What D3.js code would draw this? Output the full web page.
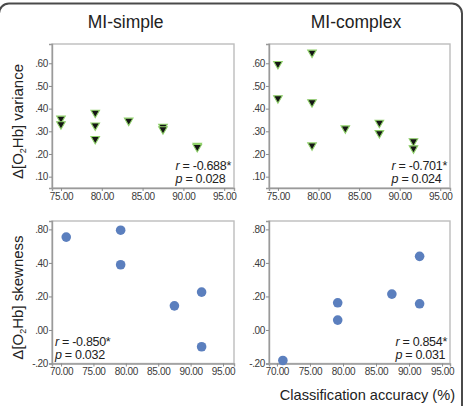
<!DOCTYPE html>
<html><head><meta charset="utf-8">
<script src="https://cdnjs.cloudflare.com/ajax/libs/d3/7.8.5/d3.min.js"></script>
<style>
html,body{margin:0;padding:0;background:#fff;}
svg{display:block;font-family:"Liberation Sans",Arial,sans-serif;}
</style></head>
<body><svg id="c" width="467" height="406"></svg>
<script>
// ---------- data ----------
const colTitles = ["MI-simple", "MI-complex"];
const xLabel = "Classification accuracy (%)";

// top row: variance (triangles)
const simpleVarX = [75.0, 75.0, 79.2, 79.2, 79.2, 83.3, 87.5, 87.5, 91.7, 91.7];
const simpleVarY = [0.356, 0.331, 0.382, 0.326, 0.266, 0.347, 0.320, 0.309, 0.236, 0.231];
const complexVarX = [75.0, 75.0, 79.2, 79.2, 79.2, 83.3, 87.5, 87.5, 91.7, 91.7];
const complexVarY = [0.597, 0.446, 0.647, 0.428, 0.238, 0.313, 0.338, 0.292, 0.256, 0.225];

// bottom row: skewness (circles), y in axis position units
const simpleSkewX = [70.8, 79.2, 79.2, 87.5, 91.7, 91.7];
const simpleSkewY = [0.554, 0.595, 0.389, 0.144, 0.226, -0.100];
const complexSkewX = [70.9, 79.2, 79.2, 87.4, 91.6, 91.6];
const complexSkewY = [-0.182, 0.162, 0.059, 0.214, 0.439, 0.156];

const topXTicks = [75, 80, 85, 90, 95];
const botXTicks = [70, 75, 80, 85, 90, 95];
const topYTicks = [0.1, 0.2, 0.3, 0.4, 0.5, 0.6];
const topYTickLabels = [".10", ".20", ".30", ".40", ".50", ".60"];
const botYTicks = [-0.2, 0.0, 0.2, 0.4, 0.6];
const botYTickLabels = ["-.20", ".00", ".20", ".40", ".80"];

const stats = [
  {r: "-0.688*", p: "0.028"},
  {r: "-0.701*", p: "0.024"},
  {r: "-0.850*", p: "0.032"},
  {r: "0.854*",  p: "0.031"}
];

// ---------- drawing ----------
const svg = d3.select("#c");

// outer rounded border
svg.append("rect").attr("x", -1).attr("y", 3.5).attr("width", 463).attr("height", 420)
  .attr("rx", 10).attr("fill", "none").attr("stroke", "#4a4a4a").attr("stroke-width", 2);

const panels = [
  {x0: 52, x1: 234, y0: 44, y1: 188, xd: [73.9, 96.2], yd: [0.05, 0.685], xs: simpleVarX, ys: simpleVarY,
   xt: topXTicks, yt: topYTicks, ytl: topYTickLabels, mark: "tri", st: stats[0], statPos: "br"},
  {x0: 269, x1: 450, y0: 44, y1: 188, xd: [73.9, 96.2], yd: [0.05, 0.685], xs: complexVarX, ys: complexVarY,
   xt: topXTicks, yt: topYTicks, ytl: topYTickLabels, mark: "tri", st: stats[1], statPos: "br"},
  {x0: 52, x1: 234, y0: 221, y1: 363.5, xd: [68.6, 96.7], yd: [-0.2, 0.65], xs: simpleSkewX, ys: simpleSkewY,
   xt: botXTicks, yt: botYTicks, ytl: botYTickLabels, mark: "dot", st: stats[2], statPos: "bl"},
  {x0: 269, x1: 450, y0: 221, y1: 363.5, xd: [68.8, 96.2], yd: [-0.2, 0.65], xs: complexSkewX, ys: complexSkewY,
   xt: botXTicks, yt: botYTicks, ytl: botYTickLabels, mark: "dot", st: stats[3], statPos: "br"}
];

panels.forEach(p => {
  const x = d3.scaleLinear().domain(p.xd).range([p.x0, p.x1]);
  const y = d3.scaleLinear().domain(p.yd).range([p.y1, p.y0]);
  const g = svg.append("g");

  g.append("rect").attr("x", p.x0).attr("y", p.y0).attr("width", p.x1 - p.x0).attr("height", p.y1 - p.y0)
    .attr("fill", "#fff").attr("stroke", "#bdbdbd").attr("stroke-width", 1.4);

  const xa = g.append("g").attr("transform", `translate(0,${p.y1})`)
    .call(d3.axisBottom(x).tickValues(p.xt).tickFormat(d3.format(".2f")).tickSize(3).tickPadding(1.5));
  const ya = g.append("g").attr("transform", `translate(${p.x0},0)`)
    .call(d3.axisLeft(y).tickValues(p.yt).tickFormat((d, i) => p.ytl[i]).tickSize(3).tickPadding(1));
  [xa, ya].forEach(a => {
    a.select(".domain").attr("stroke", "#9a9a9a").attr("stroke-width", 1.4);
    a.selectAll(".tick line").attr("stroke", "#8a8a8a");
    a.selectAll(".tick text").attr("fill", "#3a3a3a").attr("font-size", "10px")
      .attr("letter-spacing", "-0.35px").attr("font-family", "'Liberation Sans', Arial, sans-serif");
  });

  const pts = p.xs.map((v, i) => [v, p.ys[i]]);
  if (p.mark === "tri") {
    const sym = d3.symbol().type(d3.symbolTriangle).size(32);
    g.selectAll("path.pt").data(pts).join("path").attr("class", "pt")
      .attr("d", sym)
      .attr("transform", d => `translate(${x(d[0])},${y(d[1])}) rotate(180)`)
      .attr("fill", "#151515").attr("stroke", "#8fd06a").attr("stroke-width", 1.1);
  } else {
    g.selectAll("circle.pt").data(pts).join("circle").attr("class", "pt")
      .attr("cx", d => x(d[0])).attr("cy", d => y(d[1])).attr("r", 4.8)
      .attr("fill", "#5b7fbe");
  }

  // stats text
  const tx = p.statPos === "br" ? p.x1 - 3 : p.x0 + 3;
  const anchor = p.statPos === "br" ? "end" : "start";
  const tg = g.append("g").attr("font-size", "12.5px").attr("fill", "#222").attr("letter-spacing", "-0.3px");
  const baseR = p.y1 - 18, baseP = p.y1 - 5;
  const t1 = tg.append("text").attr("x", tx).attr("y", baseR).attr("text-anchor", anchor);
  t1.append("tspan").attr("font-style", "italic").text("r");
  t1.append("tspan").text(" = " + p.st.r);
  const t2 = tg.append("text").attr("x", tx).attr("y", baseP).attr("text-anchor", anchor);
  t2.append("tspan").attr("font-style", "italic").text("p");
  t2.append("tspan").text(" = " + p.st.p);
  if (p.statPos === "br") {
    const w1 = t1.node().getComputedTextLength();
    const left = tx - w1;
    t1.attr("text-anchor", "start").attr("x", left);
    t2.attr("text-anchor", "start").attr("x", left);
  }
});

// column titles
svg.append("text").attr("x", 125.7).attr("y", 28).attr("text-anchor", "middle")
  .attr("font-size", "17.5px").attr("fill", "#222").text(colTitles[0]);
svg.append("text").attr("x", 356).attr("y", 28).attr("text-anchor", "middle")
  .attr("font-size", "17.5px").attr("fill", "#222").text(colTitles[1]);

// y titles
function yTitle(cy, word) {
  const t = svg.append("text").attr("transform", `translate(23,${cy}) rotate(-90)`)
    .attr("text-anchor", "middle").attr("font-size", "15px").attr("fill", "#222");
  t.append("tspan").text("Δ[O");
  t.append("tspan").attr("font-size", "9px").attr("dy", "3").text("2");
  t.append("tspan").attr("dy", "-3").text("Hb] " + word);
}
yTitle(121.5, "variance");
yTitle(297.5, "skewness");

// x title
svg.append("text").attr("x", 455).attr("y", 400).attr("text-anchor", "end")
  .attr("font-size", "14.6px").attr("fill", "#222").text(xLabel);
</script></body></html>
